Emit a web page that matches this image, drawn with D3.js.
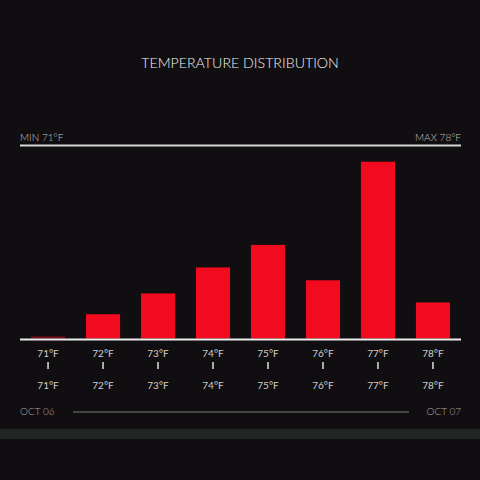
<!DOCTYPE html>
<html><head><meta charset="utf-8">
<script src="https://cdn.jsdelivr.net/npm/d3@7"></script>
<style>
html,body{margin:0;padding:0;background:#110e11;}
svg{display:block;}
</style></head>
<body>
<svg id="chart" width="480" height="480"></svg>
<script>
const categories = ["71°F","72°F","73°F","74°F","75°F","76°F","77°F","78°F"];
const counts = [0.6, 7, 13, 20.5, 27, 16.8, 51, 10.4];
const title = "TEMPERATURE DISTRIBUTION";
const minLabel = "MIN 71°F";
const maxLabel = "MAX 78°F";
const startDate = "OCT 06";
const endDate = "OCT 07";

const svg = d3.select("#chart");
const W = 480, H = 480;
const left = 20, right = 461;
const baseY = 339.5, topY = 162.7;
const font = "'Lato', 'Open Sans', sans-serif";

svg.append("rect").attr("width", W).attr("height", H).attr("fill", "#110e11");
svg.append("rect").attr("x", 0).attr("y", 429).attr("width", W).attr("height", 10).attr("fill", "#222624");

svg.append("text").attr("x", 240).attr("y", 68).attr("text-anchor", "middle")
  .attr("fill", "#f2f2f2").attr("font-family", font).attr("font-weight", 300)
  .attr("font-size", 14.2).text(title);

svg.append("text").attr("x", left).attr("y", 141).attr("fill", "#c4c4c4")
  .attr("font-family", font).attr("font-size", 10).attr("font-weight", 300).text(minLabel);
svg.append("text").attr("x", right).attr("y", 141).attr("text-anchor", "end").attr("fill", "#c4c4c4")
  .attr("font-family", font).attr("font-size", 10).attr("font-weight", 300).text(maxLabel);
svg.append("line").attr("x1", left).attr("x2", right).attr("y1", 145.5).attr("y2", 145.5)
  .attr("stroke", "#d8d8d8").attr("stroke-width", 2);

const x = d3.scaleBand().domain(categories).range([left, right]).paddingInner(0.38).paddingOuter(0.2);
const y = d3.scaleLinear().domain([0, d3.max(counts)]).range([baseY, topY]);

svg.append("g").selectAll("rect").data(categories).join("rect")
  .attr("x", d => x(d)).attr("width", x.bandwidth())
  .attr("y", (d, i) => y(counts[i]) - 1)
  .attr("height", (d, i) => baseY - y(counts[i]))
  .attr("fill", "#f20a1e")
  .attr("fill-opacity", (d, i) => i === 0 ? 0.45 : 1);

svg.append("line").attr("x1", left).attr("x2", right).attr("y1", baseY).attr("y2", baseY)
  .attr("stroke", "#ececec").attr("stroke-width", 2);

const lab = svg.append("g").attr("font-family", font).attr("font-size", 10).attr("fill", "#d0d0d0").attr("text-anchor", "middle");
categories.forEach(c => {
  const cx = x(c) + x.bandwidth() / 2;
  lab.append("text").attr("x", cx).attr("y", 357).text(c);
  lab.append("rect").attr("x", cx - 0.75).attr("y", 362).attr("width", 1.5).attr("height", 7).attr("fill", "#e0e0e0");
  lab.append("text").attr("x", cx).attr("y", 389).text(c);
});

svg.append("text").attr("x", left).attr("y", 415).attr("fill", "#a8a8a8")
  .attr("font-family", font).attr("font-size", 10).attr("font-weight", 300).text(startDate);
svg.append("text").attr("x", right).attr("y", 415).attr("text-anchor", "end").attr("fill", "#a8a8a8")
  .attr("font-family", font).attr("font-size", 10).attr("font-weight", 300).text(endDate);
svg.append("line").attr("x1", 73).attr("x2", 409).attr("y1", 412).attr("y2", 412)
  .attr("stroke", "#7a7a7a").attr("stroke-width", 1);
</script>
</body></html>
